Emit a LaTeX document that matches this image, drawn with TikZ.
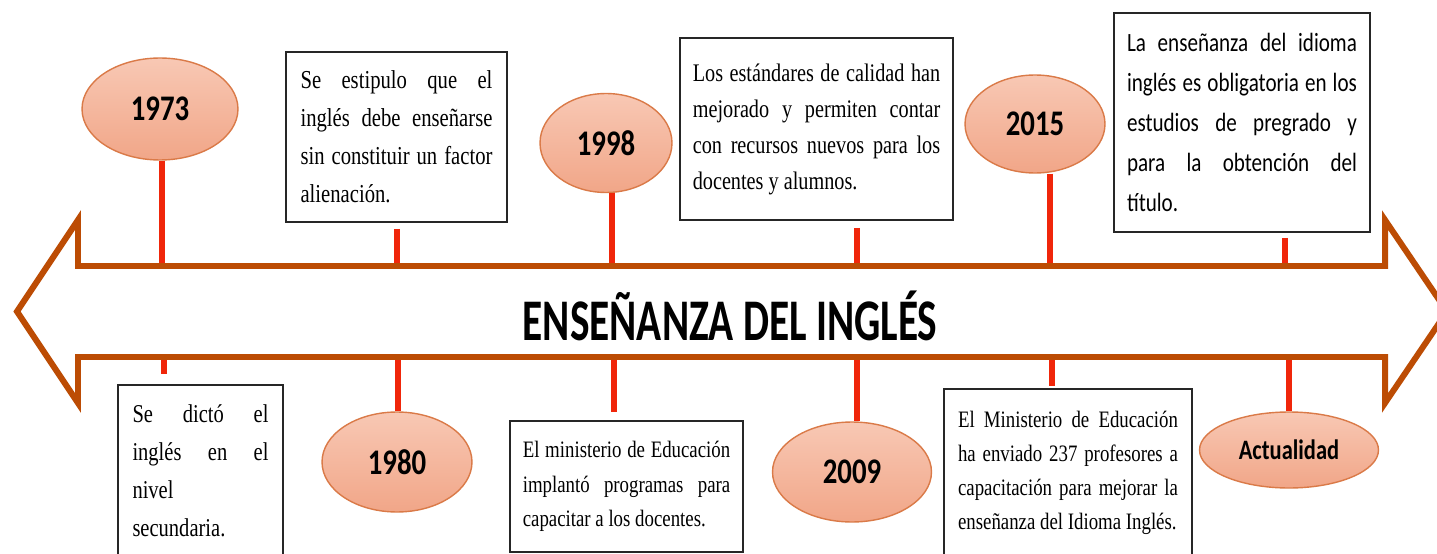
\documentclass[tikz,border=0pt]{standalone}
\usepackage{fontspec}
\usepackage{tikz}
\usetikzlibrary{shapes.geometric,calc}
\newfontfamily\boxfont[FakeStretch=0.8]{Liberation Serif}
\newfontfamily\calfont[FakeStretch=0.8]{Carlito}
\newfontfamily\titlefont[FakeStretch=0.7]{Carlito}
\definecolor{arrowbrown}{RGB}{188,76,4}
\definecolor{stemred}{RGB}{240,38,10}
\definecolor{salmontop}{RGB}{248,200,180}
\definecolor{salmonbot}{RGB}{241,166,136}
\definecolor{salmonline}{RGB}{218,122,72}
\hyphenpenalty=10000
\tolerance=10000

\begin{document}
\begin{tikzpicture}[x=0.02cm,y=-0.02cm,
    stem/.style={stemred,line width=3.4pt},
    year/.style={ellipse,draw=salmonline,line width=0.8pt,top color=salmontop,bottom color=salmonbot,
        inner sep=0pt,font=\calfont\bfseries\fontsize{20.5}{24}\selectfont},
    textbox/.style={draw=black!85,fill=white,line width=0.9pt,align=justify,inner sep=0pt},
    serif/.style 2 args={font=\boxfont\fontsize{#1}{#2}\selectfont}]

    \useasboundingbox (0,0) rectangle (1437,554);
    \fill[white] (0,0) rectangle (1437,554);

    \node[year,minimum width=3.12cm,minimum height=2.04cm] (y1973) at (160,109) {1973};
    \node[year,minimum width=2.64cm,minimum height=1.98cm] (y1998) at (606,143) {1998};
    \node[year,minimum width=2.8cm,minimum height=1.96cm] (y2015) at (1035,124) {2015};
    \node[year,minimum width=3cm,minimum height=2cm] (y1980) at (397,462) {1980};
    \node[year,minimum width=3.18cm,minimum height=2cm] (y2009) at (852,472) {2009};
    \node[year,minimum width=3.58cm,minimum height=1.52cm,font=\calfont\bfseries\fontsize{16}{19}\selectfont]
        (yact) at (1289,450) {Actualidad};

    \node[textbox,serif={14.7}{21.6},text width=3.84cm,minimum width=4.42cm,minimum height=3.4cm] (estipulo) at (396.5,137)
        {Se estipulo que el\linebreak inglés debe enseñarse\linebreak sin constituir un factor\linebreak alienación.};
    \node[textbox,serif={14.4}{20.5},text width=4.95cm,minimum width=5.46cm,minimum height=3.64cm] (estandares) at (816.5,129)
        {Los estándares de calidad han\linebreak mejorado y permiten contar\linebreak con recursos nuevos para los\linebreak docentes y alumnos.};
    \node[textbox,font=\calfont\fontsize{15}{22.8}\selectfont,text width=4.6cm,minimum width=5.12cm,minimum height=4.38cm]
        (obligatoria) at (1242,122.5)
        {La enseñanza del idioma\linebreak inglés es obligatoria en los\linebreak estudios de pregrado y\linebreak para la obtención del\linebreak título.};
    \node[textbox,serif={14.6}{21.6},text width=2.72cm,minimum width=3.3cm,minimum height=3.42cm] (dicto) at (200.5,470.5)
        {Se dictó el\linebreak inglés en el\linebreak nivel\linebreak secundaria.};
    \node[textbox,serif={13.4}{19.6},text width=4.15cm,minimum width=4.66cm,minimum height=2.62cm] (implanto) at (626.5,486.5)
        {El ministerio de Educación\linebreak implantó programas para\linebreak capacitar a los docentes.};
    \node[textbox,serif={13.4}{19.4},text width=4.4cm,minimum width=4.96cm,minimum height=3.34cm] (enviado) at (1068,472.5)
        {El Ministerio de Educación\linebreak ha enviado 237 profesores a\linebreak capacitación para mejorar la\linebreak enseñanza del Idioma Inglés.};

    \coordinate (t1) at (162,266);
    \coordinate (t2) at (397,266);
    \coordinate (t3) at (612,266);
    \coordinate (t4) at (857,266);
    \coordinate (t5) at (1050,266);
    \coordinate (t6) at (1285,266);
    \coordinate (b1) at (164,357);
    \coordinate (b2) at (398,357);
    \coordinate (b3) at (614,357);
    \coordinate (b4) at (857,357);
    \coordinate (b5) at (1052,357);
    \coordinate (b6) at (1289,357);

    \draw[stem] (t1 |- y1973.south) -- (t1);
    \draw[stem,shorten <=0.12cm] (t2 |- estipulo.south) -- (t2);
    \draw[stem] (t3 |- y1998.south) -- (t3);
    \draw[stem,shorten <=0.14cm] (t4 |- estandares.south) -- (t4);
    \draw[stem] (t5 |- y2015.south) -- (t5);
    \draw[stem,shorten <=0.1cm] (t6 |- obligatoria.south) -- (t6);

    \draw[stem,shorten >=0.2cm] (b1) -- (b1 |- dicto.north);
    \draw[stem] (b2) -- (b2 |- y1980.north);
    \draw[stem,shorten >=0.16cm] (b3) -- (b3 |- implanto.north);
    \draw[stem] (b4) -- (b4 |- y2009.north);
    \draw[stem,shorten >=0.04cm] (b5) -- (b5 |- enviado.north);
    \draw[stem] (b6) -- (b6 |- yact.north);

    \draw[arrowbrown,line width=3.4pt,line join=miter]
    (17,311.5) -- (78,220) -- (78,266) -- (1385,266) -- (1385,220) -- (1447,311.5)
    -- (1385,403) -- (1385,357) -- (78,357) -- (78,403) -- cycle;

    \node[font=\titlefont\bfseries\fontsize{33.6}{38}\selectfont,anchor=base] (title) at (730,340) {ENSEÑANZA DEL INGLÉS};
\end{tikzpicture}
\end{document}
